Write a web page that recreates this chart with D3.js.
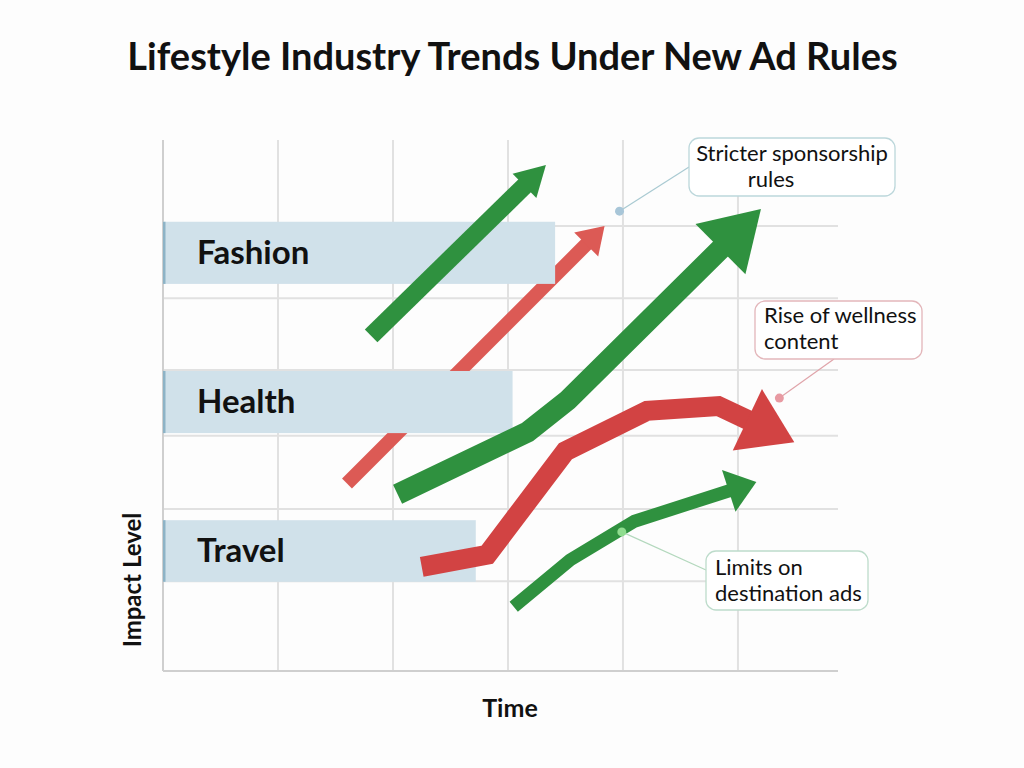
<!DOCTYPE html>
<html><head><meta charset="utf-8">
<script src="https://cdn.jsdelivr.net/npm/d3@7"></script>
<style>
body{margin:0;background:#fff}
svg{display:block}
text{font-family:Lato,"Open Sans",sans-serif;fill:#111}
</style>
</head><body><svg id="c" width="1024" height="768"></svg>
<script>
// ---------- data ----------
const chartTitle = "Lifestyle Industry Trends Under New Ad Rules";
const xLabel = "Time";
const yLabel = "Impact Level";
const timeTicks = [1, 2, 3, 4, 5];
const impactGrid = [1.69, 3.05, 4.43, 5.67, 7.02, 8.38];
const categories = ["Fashion", "Health", "Travel"];
const bandLow = [7.29, 4.48, 1.68];
const bandHigh = [8.46, 5.65, 2.84];
const bandEnd = [3.41, 3.04, 2.72];
// trend arrows: [time, impact]
const fashionGreen = [[1.81, 6.31], [3.33, 9.53]];
const fashionRed = [[1.60, 3.53], [3.84, 8.38]];
const healthGreen = [[2.04, 3.33], [3.17, 4.50], [3.52, 5.10], [5.20, 8.70]];
const healthRed = [[2.25, 1.96], [2.82, 2.19], [3.50, 4.14], [4.21, 4.90], [4.83, 4.99], [5.49, 4.31]];
const travelGreen = [[3.05, 1.21], [3.54, 2.09], [4.10, 2.82], [5.16, 3.56]];
// annotations
const noteTexts = [["Stricter sponsorship", "rules"], ["Rise of wellness", "content"], ["Limits on", "destination ads"]];
const noteAnchors = [[3.97, 8.66], [5.36, 5.14], [3.99, 2.62]];

// ---------- layout ----------
const svg = d3.select("#c");
const x = d3.scaleLinear().domain([0, 5.87]).range([163, 838]);
const y = d3.scaleLinear().domain([0, 10]).range([671, 140]);

svg.append("rect").attr("width", 1024).attr("height", 768).attr("fill", "#fdfdfd");

svg.append("text").attr("x", 512.5).attr("y", 70).attr("text-anchor", "middle")
  .style("font-size", "38px").style("font-weight", 700).text(chartTitle);

// grid
const grid = svg.append("g");
grid.selectAll(".h").data(impactGrid).join("line")
  .attr("x1", x(0)).attr("x2", x(5.87)).attr("y1", d => y(d)).attr("y2", d => y(d))
  .attr("stroke", "#e1e1e1").attr("stroke-width", 2);
grid.selectAll(".v").data(timeTicks).join("line")
  .attr("x1", d => x(d)).attr("x2", d => x(d)).attr("y1", y(10)).attr("y2", y(0))
  .attr("stroke", "#e1e1e1").attr("stroke-width", 2);
// axes
svg.append("line").attr("x1", x(0)).attr("x2", x(0)).attr("y1", y(10)).attr("y2", y(0))
  .attr("stroke", "#cfcfcf").attr("stroke-width", 2);
svg.append("line").attr("x1", x(0)).attr("x2", x(5.87)).attr("y1", y(0)).attr("y2", y(0))
  .attr("stroke", "#cfcfcf").attr("stroke-width", 2);

svg.append("text").attr("x", 510).attr("y", 717).attr("text-anchor", "middle")
  .style("font-size", "25px").style("font-weight", 700).text(xLabel);
svg.append("text").attr("transform", "translate(141,580) rotate(-90)").attr("text-anchor", "middle")
  .style("font-size", "24px").style("font-weight", 700).text(yLabel);

const underLayer = svg.append("g");
function drawArrow(g, pts, color, w, hl, hw) {
  const P = pts.map(d => [x(d[0]), y(d[1])]);
  const n = P.length, tip = P[n - 1], prev = P[n - 2];
  const dx = tip[0] - prev[0], dy = tip[1] - prev[1], L = Math.hypot(dx, dy);
  const ux = dx / L, uy = dy / L;
  const base = [tip[0] - ux * hl, tip[1] - uy * hl];
  const shaft = P.slice(0, n - 1).concat([[base[0] + ux * 3, base[1] + uy * 3]]);
  g.append("path").attr("d", d3.line()(shaft)).attr("fill", "none")
    .attr("stroke", color).attr("stroke-width", w)
    .attr("stroke-linejoin", "miter").attr("stroke-linecap", "butt");
  const px = -uy, py = ux;
  g.append("path").attr("d",
    `M${tip[0]},${tip[1]}L${base[0] + px * hw / 2},${base[1] + py * hw / 2}L${base[0] - px * hw / 2},${base[1] - py * hw / 2}Z`)
    .attr("fill", color);
}

// red fashion arrow sits beneath the bands
drawArrow(underLayer, fashionRed, "#dc5a55", 14, 26, 34);

// bands
const bands = svg.append("g");
categories.forEach((c, i) => {
  bands.append("rect").attr("x", x(0)).attr("y", y(bandHigh[i]))
    .attr("width", x(bandEnd[i]) - x(0)).attr("height", y(bandLow[i]) - y(bandHigh[i]))
    .attr("fill", "#d0e1ea");
  bands.append("rect").attr("x", x(0)).attr("y", y(bandHigh[i]))
    .attr("width", 2.5).attr("height", y(bandLow[i]) - y(bandHigh[i]))
    .attr("fill", "#8db3c6");
  bands.append("text").attr("x", 197).attr("y", (y(bandHigh[i]) + y(bandLow[i])) / 2 + 11)
    .style("font-size", "33px").style("font-weight", 700).text(c);
});

const overLayer = svg.append("g");
drawArrow(overLayer, fashionGreen, "#2f913f", 18, 30, 34);
drawArrow(overLayer, healthGreen, "#2f913f", 21, 57, 71);
drawArrow(overLayer, healthRed, "#d24343", 20, 52, 68);
drawArrow(overLayer, travelGreen, "#2f913f", 13, 29, 44);

// annotations
const noteBoxes = [
  {x: 689, y: 138, w: 206, h: 58, from: [689, 167], stroke: "#bcd7db", lead: "#a9cad2", dot: "#a8c6d8", anchor: "middle", lines: [[792, 161], [771, 187]]},
  {x: 755, y: 301, w: 167, h: 58, from: [834, 359], stroke: "#e3b6ba", lead: "#e0a4aa", dot: "#e89aa2", anchor: "start", lines: [[764, 323], [764, 349]]},
  {x: 706, y: 551, w: 162, h: 59, from: [706, 570], stroke: "#bddccb", lead: "#b3d8bd", dot: "#8fdc8f", anchor: "start", lines: [[715, 575], [715, 601]]}
];
const notes = svg.append("g");
noteBoxes.forEach((b, i) => {
  const a = noteAnchors[i];
  notes.append("line").attr("x1", b.from[0]).attr("y1", b.from[1]).attr("x2", x(a[0])).attr("y2", y(a[1]))
    .attr("stroke", b.lead).attr("stroke-width", 1.2);
  notes.append("circle").attr("cx", x(a[0])).attr("cy", y(a[1])).attr("r", 4.5).attr("fill", b.dot);
  notes.append("rect").attr("x", b.x).attr("y", b.y).attr("width", b.w).attr("height", b.h)
    .attr("rx", 10).attr("fill", "#fff").attr("stroke", b.stroke).attr("stroke-width", 1.3);
  noteTexts[i].forEach((t, j) => {
    notes.append("text").attr("x", b.lines[j][0]).attr("y", b.lines[j][1])
      .attr("text-anchor", b.anchor).style("font-size", "22px").style("font-weight", 400).text(t);
  });
});
</script>
</body></html>
